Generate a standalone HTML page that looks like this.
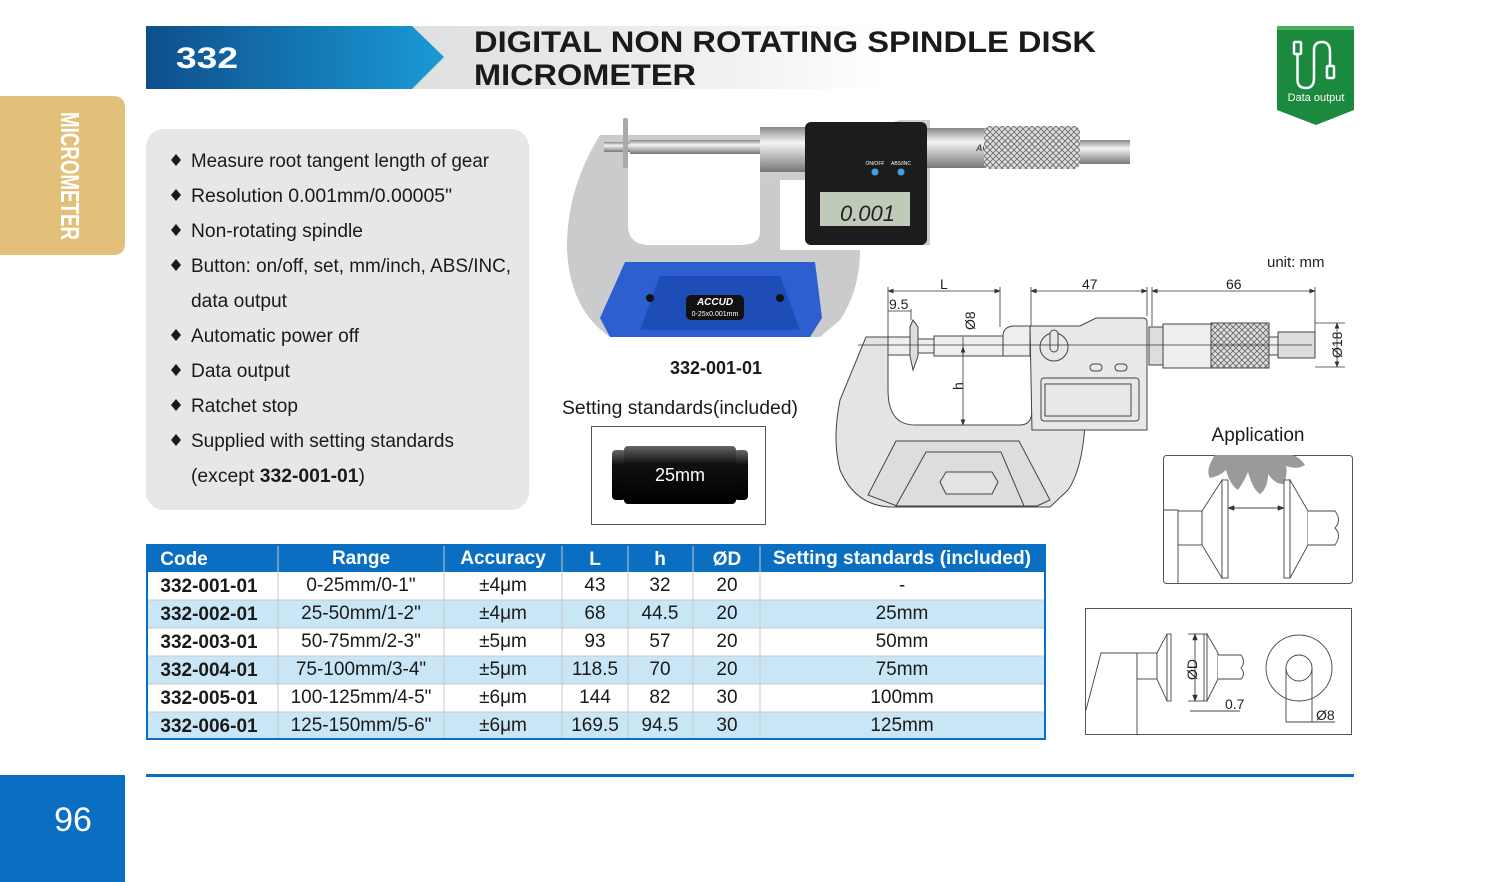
<!DOCTYPE html>
<html><head><meta charset="utf-8"><style>
html,body{margin:0;padding:0;background:#fff;}
svg{display:block;}
text{font-family:"Liberation Sans",sans-serif;}
</style></head><body>
<svg width="1500" height="882" viewBox="0 0 1500 882" xmlns="http://www.w3.org/2000/svg">
<defs>
<linearGradient id="hb" x1="0" x2="1"><stop offset="0" stop-color="#0d4f8c"/><stop offset="1" stop-color="#1a9ad6"/></linearGradient>
<linearGradient id="hg" x1="0" x2="1"><stop offset="0" stop-color="#dedfe0"/><stop offset="0.7" stop-color="#f2f2f2"/><stop offset="1" stop-color="#ffffff"/></linearGradient>
<linearGradient id="cyl" x1="0" y1="0" x2="0" y2="1"><stop offset="0" stop-color="#666"/><stop offset="0.3" stop-color="#111"/><stop offset="1" stop-color="#000"/></linearGradient>
<linearGradient id="met" x1="0" y1="0" x2="0" y2="1"><stop offset="0" stop-color="#888"/><stop offset="0.35" stop-color="#f4f4f4"/><stop offset="1" stop-color="#777"/></linearGradient>
<pattern id="knurl" width="6" height="6" patternUnits="userSpaceOnUse"><rect width="6" height="6" fill="#ddd"/><path d="M0 0L6 6M6 0L0 6" stroke="#666" stroke-width="0.8"/></pattern>
<marker id="ar" markerWidth="8" markerHeight="6" refX="7" refY="3" orient="auto-start-reverse"><path d="M0 0L8 3L0 6z" fill="#333"/></marker>
</defs>

<!-- header -->
<rect x="412" y="26" width="470" height="63" fill="url(#hg)"/>
<polygon points="146,26 412,26 444,57 412,89 146,89" fill="url(#hb)"/>
<text x="176" y="68" font-size="30" font-weight="bold" fill="#fff" textLength="62" lengthAdjust="spacingAndGlyphs">332</text>
<text x="474" y="52" font-size="30" font-weight="bold" fill="#1a1a1a" textLength="622" lengthAdjust="spacingAndGlyphs">DIGITAL NON ROTATING SPINDLE DISK</text>
<text x="474" y="85" font-size="30" font-weight="bold" fill="#1a1a1a" textLength="222" lengthAdjust="spacingAndGlyphs">MICROMETER</text>

<!-- data output badge -->
<polygon points="1277,26 1354,26 1354,110 1316,125 1277,110" fill="#1b8a3e"/>
<rect x="1277" y="26" width="77" height="4" fill="#4aae5a"/>
<g fill="none" stroke="#fff" stroke-width="2.5">
<rect x="1294" y="42" width="7" height="12" rx="1"/>
<path d="M1297.5 54 V80 Q1297.5 88 1306 88 Q1314 88 1314 78 V50 Q1314 42 1322 42 Q1330 42 1330 52 V66"/>
<rect x="1327" y="66" width="7" height="12" rx="1"/>
</g>
<text x="1316" y="101" font-size="11" fill="#fff" text-anchor="middle">Data output</text>

<!-- left tab -->
<path d="M0 96 H113 Q125 96 125 108 V243 Q125 255 113 255 H0 Z" fill="#e2c07a"/>
<text transform="translate(61,112) rotate(90)" font-size="26" font-weight="bold" fill="#fff" textLength="128" lengthAdjust="spacingAndGlyphs">MICROMETER</text>

<!-- bullets box -->
<rect x="146" y="129" width="383" height="381" rx="18" fill="#e6e7e8"/>
<g font-size="19" fill="#1a1a1a">
<text x="191" y="167" textLength="298" lengthAdjust="spacingAndGlyphs">Measure root tangent length of gear</text>
<text x="191" y="202" textLength="261" lengthAdjust="spacingAndGlyphs">Resolution 0.001mm/0.00005"</text>
<text x="191" y="237" textLength="172" lengthAdjust="spacingAndGlyphs">Non-rotating spindle</text>
<text x="191" y="272" textLength="320" lengthAdjust="spacingAndGlyphs">Button: on/off, set, mm/inch, ABS/INC,</text>
<text x="191" y="307" textLength="96" lengthAdjust="spacingAndGlyphs">data output</text>
<text x="191" y="342" textLength="168" lengthAdjust="spacingAndGlyphs">Automatic power off</text>
<text x="191" y="377" textLength="99" lengthAdjust="spacingAndGlyphs">Data output</text>
<text x="191" y="412" textLength="107" lengthAdjust="spacingAndGlyphs">Ratchet stop</text>
<text x="191" y="447" textLength="263" lengthAdjust="spacingAndGlyphs">Supplied with setting standards</text>
<text x="191" y="482" textLength="174" lengthAdjust="spacingAndGlyphs">(except <tspan font-weight="bold">332-001-01</tspan>)</text>
</g>
<g fill="#1a1a1a">
<polygon points="176,154 181,160 176,166 171,160"/><polygon points="176,189 181,195 176,201 171,195"/>
<polygon points="176,224 181,230 176,236 171,230"/><polygon points="176,259 181,265 176,271 171,265"/>
<polygon points="176,329 181,335 176,341 171,335"/><polygon points="176,364 181,370 176,376 171,370"/>
<polygon points="176,399 181,405 176,411 171,405"/><polygon points="176,434 181,440 176,446 171,440"/>
</g>

<!-- product photo -->
<path d="M600 135 H780 V250 H860 Q860 290 840 320 L820 337 H610 Q570 310 567 250 Q566 190 600 135 Z" fill="#c9cbcc"/>
<path d="M628 150 H760 V232 Q760 245 740 245 H650 Q628 245 628 225 Z" fill="#fff"/>
<polygon points="625,262 815,262 822,318 810,337 610,337 600,318" fill="#2d5fd0"/>
<polygon points="660,276 780,276 800,330 640,330" fill="#1f4db8"/>
<circle cx="650" cy="298" r="4" fill="#111"/><circle cx="780" cy="298" r="4" fill="#111"/>
<rect x="686" y="295" width="58" height="25" rx="5" fill="#111"/>
<text x="715" y="305" font-size="10" font-weight="bold" font-style="italic" fill="#fff" text-anchor="middle">ACCUD</text>
<text x="715" y="316" font-size="7" fill="#fff" text-anchor="middle">0-25x0.001mm</text>
<rect x="604" y="142" width="40" height="10" fill="url(#met)"/>
<rect x="623" y="118" width="5" height="50" rx="2" fill="#aaa"/>
<rect x="630" y="140" width="140" height="14" fill="url(#met)"/>
<path d="M760 127 H875 L900 120 H930 V245 H814 V180 H760 Z" fill="#ccc"/>
<rect x="760" y="127" width="60" height="45" fill="url(#met)"/>
<path d="M815 140 L830 130 L838 150 L825 165 Z" fill="#222"/>
<rect x="805" y="122" width="122" height="123" rx="6" fill="#1c1c1c"/>
<circle cx="875" cy="172" r="3.5" fill="#3fa0e8"/><circle cx="901" cy="172" r="3.5" fill="#3fa0e8"/>
<text x="875" y="165" font-size="5" fill="#fff" text-anchor="middle">ON/OFF</text>
<text x="901" y="165" font-size="5" fill="#fff" text-anchor="middle">ABS/INC</text>
<rect x="820" y="192" width="90" height="34" fill="#bfcab8"/>
<text x="895" y="221" font-size="22" fill="#222" text-anchor="end" font-style="italic">0.001</text>
<rect x="927" y="128" width="60" height="40" fill="url(#met)"/>
<text x="976" y="151" font-size="9" font-weight="bold" font-style="italic" fill="#555">ACCUD</text>
<rect x="984" y="126" width="96" height="43" rx="6" fill="url(#knurl)"/>
<rect x="1080" y="140" width="50" height="24" fill="url(#met)"/>

<text x="716" y="374" font-size="18" font-weight="bold" fill="#1a1a1a" text-anchor="middle">332-001-01</text>
<text x="562" y="414" font-size="19" fill="#1a1a1a" textLength="236" lengthAdjust="spacingAndGlyphs">Setting standards(included)</text>
<rect x="591.5" y="426.5" width="174" height="98" fill="#fff" stroke="#555"/>
<rect x="612" y="450" width="14" height="50" rx="4" fill="url(#cyl)"/>
<rect x="734" y="450" width="14" height="50" rx="4" fill="url(#cyl)"/>
<rect x="624" y="446" width="112" height="58" rx="4" fill="url(#cyl)"/>
<text x="680" y="481" font-size="18" fill="#fff" text-anchor="middle">25mm</text>

<!-- technical drawing -->
<text x="1267" y="267" font-size="15" fill="#222">unit: mm</text>
<g stroke="#444" stroke-width="1" fill="#e4e4e4">
<path d="M866 337 H888 V390 Q888 425 915 425 H1020 Q1032 425 1032 410 V425 H1085 Q1082 470 1068 490 L1050 507 H893 Q856 507 840 470 Q832 440 840 400 Z"/>
<path d="M896 441 H1019 L1050 500 L1037 506 H897 L868 495 Z" fill="#ddd"/>
<path d="M926 452 H1001 L1024 506 H896 Z" fill="#ddd"/>
<polygon points="946,472 992,472 998,482 992,494 946,494 940,482" fill="#e4e4e4"/>
<rect x="888" y="337" width="25" height="18" fill="#eee"/>
<polygon points="910,327 913,320 918,327 918,356 913,370 910,356" fill="#ddd"/>
<rect x="918" y="339" width="16" height="14" fill="#eee"/>
<rect x="934" y="336" width="69" height="20" fill="#eee"/>
<path d="M1003 336 Q1003 326 1015 326 H1030 V356 H1003 Z" fill="#eee"/>
<path d="M1030 326 H1080 L1096 318 H1142 Q1147 318 1147 322 V430 H1032 Z" fill="#e8e8e8"/>
<rect x="1041" y="378" width="98" height="43" rx="3" fill="#e8e8e8"/>
<rect x="1045" y="384" width="86" height="32" fill="#e8e8e8"/>
<circle cx="1054" cy="347" r="14" fill="#e8e8e8"/>
<rect x="1050" y="330" width="8" height="22" rx="4" fill="#e8e8e8"/>
<rect x="1090" y="364" width="12" height="7" rx="3.5" fill="none"/><rect x="1115" y="364" width="12" height="7" rx="3.5" fill="none"/>
<rect x="1149" y="327" width="14" height="38" fill="#ddd"/>
<rect x="1163" y="324" width="48" height="44" fill="#eee"/>
<rect x="1211" y="323" width="58" height="45" fill="url(#knurl)"/>
<rect x="1269" y="337" width="9" height="18" fill="#eee"/>
<rect x="1278" y="332" width="37" height="26" fill="#ddd"/>
</g>
<line x1="858" y1="345" x2="1312" y2="345" stroke="#333" stroke-width="0.8"/>
<g stroke="#333" stroke-width="0.8" fill="none">
<line x1="888" y1="287" x2="888" y2="337"/><line x1="1000" y1="287" x2="1000" y2="327"/>
<line x1="1031" y1="287" x2="1031" y2="326"/><line x1="1147" y1="287" x2="1147" y2="316"/>
<line x1="1152" y1="287" x2="1152" y2="326"/><line x1="1315" y1="287" x2="1315" y2="332"/>
<line x1="888" y1="291" x2="1000" y2="291" marker-start="url(#ar)" marker-end="url(#ar)"/>
<line x1="1031" y1="291" x2="1147" y2="291" marker-start="url(#ar)" marker-end="url(#ar)"/>
<line x1="1152" y1="291" x2="1315" y2="291" marker-start="url(#ar)" marker-end="url(#ar)"/>
<line x1="888" y1="311" x2="911" y2="311"/><line x1="911" y1="309" x2="911" y2="320"/>
<line x1="963" y1="337" x2="963" y2="355"/>
<line x1="963" y1="347" x2="963" y2="425" marker-start="url(#ar)" marker-end="url(#ar)"/>
<line x1="1337" y1="323" x2="1337" y2="367" marker-start="url(#ar)" marker-end="url(#ar)"/>
<line x1="1315" y1="323" x2="1345" y2="323"/><line x1="1315" y1="367" x2="1345" y2="367"/>
</g>
<g font-size="14" fill="#222">
<text x="940" y="289">L</text><text x="1082" y="289">47</text><text x="1226" y="289">66</text>
<text x="889" y="309">9.5</text>
<text transform="translate(975,330) rotate(-90)">Ø8</text>
<text transform="translate(963,390) rotate(-90)">h</text>
<text transform="translate(1342,358) rotate(-90)">Ø18</text>
</g>

<!-- application -->
<text x="1258" y="441" font-size="19" fill="#1a1a1a" text-anchor="middle">Application</text>
<rect x="1163.5" y="455.5" width="189" height="128" rx="3" fill="#fff" stroke="#555"/>
<path d="M1215 455 Q1205 470 1210 478 Q1220 476 1226 470 Q1230 485 1238 490 Q1245 480 1248 472 Q1253 490 1260 494 Q1268 488 1268 474 Q1276 485 1284 484 Q1288 472 1286 466 Q1298 470 1305 465 Q1298 455 1290 455 Z" fill="#9a9a9a"/>
<g stroke="#444" fill="#fff" stroke-width="0.9">
<path d="M1164 510 H1178 V583" fill="none"/>
<rect x="1178" y="511" width="24" height="34"/>
<polygon points="1202,511 1222,480 1222,578 1202,545"/>
<rect x="1222" y="480" width="6" height="98"/>
<rect x="1284" y="480" width="6" height="98"/>
<polygon points="1290,480 1308,511 1308,545 1290,578"/>
<path d="M1308 511 H1335 Q1342 520 1335 528 Q1342 535 1335 545 H1308"/>
<line x1="1228" y1="508" x2="1284" y2="508" marker-start="url(#ar)" marker-end="url(#ar)"/>
</g>

<!-- detail box -->
<rect x="1085.5" y="608.5" width="266" height="126" fill="#fff" stroke="#555"/>
<g stroke="#444" fill="#fff" stroke-width="0.9">
<path d="M1086 710 L1101 653 H1137 V735" fill="none"/>
<rect x="1137" y="653" width="20" height="26"/>
<polygon points="1157,653 1167,634 1167,701 1157,679"/>
<rect x="1167" y="634" width="4" height="67"/>
<rect x="1204" y="634" width="3" height="67"/>
<polygon points="1207,634 1218,653 1218,679 1207,701"/>
<path d="M1218 655 H1241 Q1246 662 1241 668 Q1246 674 1241 679 H1218"/>
<circle cx="1299" cy="668" r="33"/>
<circle cx="1299" cy="668" r="13"/>
<path d="M1286 668 V722 M1312 668 V722" fill="none"/>
<line x1="1195" y1="634" x2="1195" y2="701" marker-start="url(#ar)" marker-end="url(#ar)"/>
<line x1="1188" y1="634" x2="1204" y2="634"/><line x1="1188" y1="701" x2="1204" y2="701"/>
<line x1="1190" y1="711" x2="1240" y2="711"/>
<line x1="1286" y1="722" x2="1335" y2="722"/>
</g>
<g font-size="14" fill="#222">
<text transform="translate(1197,680) rotate(-90)">ØD</text>
<text x="1225" y="709">0.7</text><text x="1316" y="720">Ø8</text>
</g>

<!-- table -->
<rect x="146" y="544" width="900" height="28" fill="#0a6fc2"/>
<g fill="#c9e6f7"><rect x="146" y="600" width="900" height="28"/><rect x="146" y="656" width="900" height="28"/><rect x="146" y="712" width="900" height="28"/></g>
<g stroke="#c8c8c8" stroke-width="1">
<line x1="146" y1="600" x2="1046" y2="600"/><line x1="146" y1="628" x2="1046" y2="628"/><line x1="146" y1="656" x2="1046" y2="656"/><line x1="146" y1="684" x2="1046" y2="684"/><line x1="146" y1="712" x2="1046" y2="712"/>
<line x1="278" y1="544" x2="278" y2="740"/><line x1="444" y1="544" x2="444" y2="740"/><line x1="562" y1="544" x2="562" y2="740"/><line x1="628" y1="544" x2="628" y2="740"/><line x1="693" y1="544" x2="693" y2="740"/><line x1="760" y1="544" x2="760" y2="740"/>
</g>
<rect x="147" y="545" width="898" height="194" fill="none" stroke="#0a6fc2" stroke-width="2"/>
<g font-size="19" font-weight="bold" fill="#fff" text-anchor="middle">
<text x="184" y="565">Code</text><text x="361" y="564">Range</text><text x="503" y="564">Accuracy</text><text x="595" y="565">L</text><text x="660" y="565">h</text><text x="727" y="565">ØD</text>
<text x="902" y="564" textLength="258" lengthAdjust="spacingAndGlyphs">Setting standards (included)</text>
</g>
<g font-size="19" fill="#1a1a1a" text-anchor="middle">
<g font-weight="bold"><text x="209" y="592">332-001-01</text><text x="209" y="620">332-002-01</text><text x="209" y="648">332-003-01</text><text x="209" y="676">332-004-01</text><text x="209" y="704">332-005-01</text><text x="209" y="732">332-006-01</text></g>
<text x="361" y="591">0-25mm/0-1"</text><text x="361" y="619">25-50mm/1-2"</text><text x="361" y="647">50-75mm/2-3"</text><text x="361" y="675">75-100mm/3-4"</text><text x="361" y="703">100-125mm/4-5"</text><text x="361" y="731">125-150mm/5-6"</text>
<text x="503" y="591">±4μm</text><text x="503" y="619">±4μm</text><text x="503" y="647">±5μm</text><text x="503" y="675">±5μm</text><text x="503" y="703">±6μm</text><text x="503" y="731">±6μm</text>
<text x="595" y="591">43</text><text x="595" y="619">68</text><text x="595" y="647">93</text><text x="595" y="675">118.5</text><text x="595" y="703">144</text><text x="595" y="731">169.5</text>
<text x="660" y="591">32</text><text x="660" y="619">44.5</text><text x="660" y="647">57</text><text x="660" y="675">70</text><text x="660" y="703">82</text><text x="660" y="731">94.5</text>
<text x="727" y="591">20</text><text x="727" y="619">20</text><text x="727" y="647">20</text><text x="727" y="675">20</text><text x="727" y="703">30</text><text x="727" y="731">30</text>
<text x="902" y="591">-</text><text x="902" y="619">25mm</text><text x="902" y="647">50mm</text><text x="902" y="675">75mm</text><text x="902" y="703">100mm</text><text x="902" y="731">125mm</text>
</g>

<!-- footer -->
<rect x="146" y="774" width="1208" height="3" fill="#0a6fc2"/>
<rect x="0" y="775" width="125" height="107" fill="#0a6fc2"/>
<text x="73" y="831" font-size="34" fill="#fff" text-anchor="middle">96</text>
</svg>
</body></html>
